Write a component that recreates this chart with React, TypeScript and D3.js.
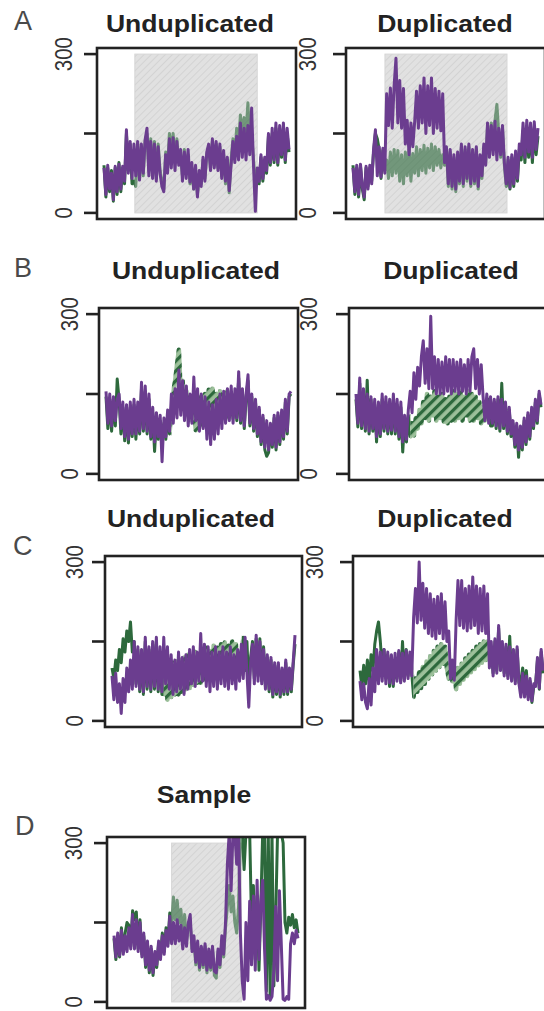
import React from 'react';
import * as d3 from 'd3';

// read-depth traces, 100 windows per panel (values on a 0-300 axis)
const aUndupPurple = [85, 35, 90, 45, 75, 25, 88, 40, 92, 45, 88, 60, 157, 75, 135, 65, 130, 70, 135, 62, 130, 75, 138, 160, 70, 135, 65, 130, 60, 125, 75, 50, 40, 110, 75, 140, 85, 142, 80, 135, 90, 120, 60, 115, 65, 120, 58, 95, 45, 90, 30, 80, 50, 105, 60, 115, 130, 80, 140, 85, 135, 80, 130, 65, 118, 60, 105, 42, 90, 135, 95, 145, 100, 170, 105, 160, 100, 165, 110, 198, 90, 3, 85, 60, 110, 65, 105, 80, 150, 95, 160, 100, 170, 95, 165, 110, 170, 100, 160, 120];
const aUndupGreen = [90, 30, 85, 40, 80, 22, 85, 35, 95, 40, 85, 55, 150, 80, 130, 55, 60, 50, 130, 65, 125, 70, 135, 150, 80, 140, 70, 135, 65, 130, 80, 60, 45, 115, 85, 150, 120, 150, 100, 140, 95, 110, 70, 120, 80, 110, 55, 80, 45, 75, 35, 70, 55, 100, 65, 110, 125, 85, 135, 90, 130, 85, 125, 70, 110, 55, 100, 38, 100, 140, 110, 160, 130, 185, 150, 180, 150, 208, 140, 150, 100, 60, 80, 55, 105, 60, 100, 75, 145, 90, 150, 95, 160, 90, 155, 105, 160, 95, 150, 115];

const aDupPurple = [85, 40, 90, 35, 92, 50, 30, 88, 45, 90, 55, 120, 157, 70, 125, 68, 122, 75, 225, 165, 236, 160, 240, 292, 170, 250, 160, 235, 130, 175, 110, 170, 125, 172, 230, 160, 240, 170, 255, 150, 240, 165, 255, 150, 235, 160, 230, 155, 225, 95, 125, 55, 120, 50, 110, 45, 115, 60, 130, 55, 125, 65, 130, 55, 120, 60, 125, 50, 110, 70, 130, 90, 170, 105, 165, 110, 173, 100, 160, 110, 165, 95, 55, 105, 48, 110, 55, 117, 65, 130, 110, 170, 105, 175, 115, 170, 105, 172, 120, 160];
const aDupGreen = [90, 35, 85, 30, 88, 45, 25, 85, 50, 85, 60, 115, 150, 140, 120, 65, 118, 80, 100, 65, 115, 70, 120, 75, 118, 60, 110, 55, 115, 70, 120, 60, 112, 75, 125, 70, 120, 80, 128, 75, 122, 85, 130, 80, 125, 90, 120, 85, 110, 90, 120, 50, 115, 45, 105, 40, 110, 55, 125, 50, 120, 60, 125, 50, 115, 55, 120, 45, 105, 65, 125, 95, 165, 110, 170, 120, 175, 205, 150, 105, 160, 90, 50, 100, 45, 105, 50, 110, 60, 120, 100, 155, 95, 160, 105, 150, 95, 160, 110, 145];

const bUndupPurple = [155, 95, 150, 90, 145, 100, 140, 150, 85, 135, 70, 130, 65, 135, 75, 140, 75, 135, 80, 172, 85, 165, 80, 150, 70, 125, 60, 115, 70, 110, 23, 105, 70, 120, 80, 150, 95, 160, 105, 195, 110, 175, 100, 165, 90, 150, 95, 182, 100, 160, 80, 150, 85, 145, 65, 135, 55, 130, 65, 140, 75, 150, 85, 155, 95, 160, 100, 165, 95, 160, 105, 192, 100, 160, 90, 150, 186, 95, 150, 85, 140, 75, 125, 60, 110, 50, 100, 45, 95, 55, 110, 50, 115, 60, 120, 70, 140, 80, 150, 155];
const bUndupGreen = [145, 85, 140, 80, 135, 90, 178, 140, 75, 125, 62, 120, 58, 125, 70, 130, 65, 125, 75, 160, 80, 155, 75, 140, 65, 115, 42, 105, 65, 100, 70, 95, 65, 110, 75, 125, 155, 175, 205, 233, 150, 175, 125, 155, 110, 145, 100, 135, 82, 130, 95, 145, 90, 150, 100, 158, 105, 160, 100, 150, 105, 155, 110, 148, 105, 155, 110, 145, 105, 150, 100, 180, 95, 155, 85, 145, 175, 90, 145, 80, 135, 70, 120, 55, 105, 45, 33, 40, 90, 50, 105, 45, 110, 55, 115, 65, 135, 75, 145, 150];

const bDupPurple = [150, 95, 180, 90, 160, 85, 150, 80, 145, 85, 140, 70, 135, 75, 150, 85, 145, 80, 140, 82, 150, 80, 140, 70, 135, 60, 110, 65, 120, 155, 115, 190, 140, 200, 165, 220, 250, 170, 235, 160, 296, 160, 220, 150, 215, 150, 210, 150, 220, 155, 215, 150, 215, 155, 210, 150, 215, 155, 205, 150, 215, 155, 220, 235, 160, 215, 150, 205, 145, 100, 150, 95, 145, 95, 140, 90, 145, 85, 140, 90, 135, 80, 125, 75, 100, 55, 95, 45, 90, 50, 105, 60, 115, 70, 125, 90, 140, 100, 155, 130];
const bDupGreen = [140, 88, 170, 85, 150, 80, 176, 75, 140, 80, 130, 60, 125, 70, 140, 80, 135, 75, 130, 75, 140, 75, 130, 65, 125, 41, 100, 60, 110, 70, 95, 72, 105, 85, 120, 95, 135, 105, 150, 100, 145, 110, 155, 100, 145, 105, 150, 98, 140, 95, 145, 100, 155, 100, 150, 105, 155, 100, 145, 110, 155, 100, 150, 100, 145, 105, 135, 95, 125, 100, 110, 140, 90, 90, 135, 85, 140, 80, 170, 85, 130, 75, 120, 70, 95, 50, 90, 31, 85, 45, 100, 55, 110, 65, 120, 85, 135, 95, 150, 125];

const cUndupPurple = [85, 40, 90, 35, 70, 14, 80, 35, 100, 55, 115, 60, 150, 65, 140, 60, 135, 55, 158, 65, 140, 60, 150, 65, 158, 60, 140, 55, 158, 70, 140, 60, 125, 50, 115, 55, 130, 60, 120, 50, 125, 60, 135, 70, 140, 65, 130, 75, 165, 75, 145, 65, 140, 55, 130, 65, 140, 60, 130, 70, 140, 65, 130, 60, 140, 70, 125, 60, 135, 75, 145, 80, 158, 90, 26, 110, 145, 70, 162, 75, 150, 70, 135, 60, 125, 60, 120, 50, 110, 55, 110, 50, 100, 55, 115, 55, 100, 60, 110, 162];
const cUndupGreen = [100, 80, 115, 95, 135, 110, 155, 130, 170, 150, 187, 130, 150, 70, 135, 55, 125, 50, 150, 60, 135, 55, 145, 60, 150, 55, 130, 50, 50, 105, 40, 100, 45, 110, 50, 112, 50, 115, 55, 120, 60, 125, 62, 120, 68, 130, 72, 125, 72, 132, 78, 138, 80, 132, 85, 142, 90, 138, 95, 145, 98, 148, 95, 142, 102, 150, 98, 145, 90, 130, 88, 158, 95, 150, 60, 120, 150, 80, 155, 85, 155, 75, 140, 65, 120, 55, 115, 45, 105, 50, 105, 45, 95, 50, 110, 50, 95, 55, 105, 145];

const cDupPurple = [75, 40, 70, 35, 23, 80, 30, 100, 55, 135, 70, 130, 75, 135, 70, 130, 72, 125, 70, 128, 75, 133, 72, 128, 75, 133, 80, 130, 85, 195, 250, 185, 300, 190, 260, 175, 250, 165, 240, 160, 230, 155, 235, 165, 240, 155, 225, 150, 170, 80, 115, 77, 190, 265, 180, 265, 175, 250, 170, 255, 175, 272, 180, 255, 165, 250, 170, 255, 165, 240, 100, 150, 85, 155, 90, 180, 95, 150, 85, 145, 80, 140, 75, 135, 70, 140, 70, 45, 90, 45, 85, 40, 80, 38, 70, 65, 120, 62, 135, 95];
const cDupGreen = [95, 65, 105, 70, 115, 70, 125, 95, 145, 170, 187, 150, 100, 135, 80, 125, 65, 120, 65, 115, 80, 130, 75, 150, 80, 135, 85, 125, 90, 45, 80, 55, 92, 62, 102, 70, 112, 80, 122, 88, 132, 95, 140, 102, 145, 108, 140, 100, 80, 105, 75, 95, 60, 100, 70, 108, 78, 118, 85, 125, 92, 132, 98, 140, 105, 145, 110, 150, 115, 150, 120, 140, 90, 150, 95, 175, 100, 145, 90, 140, 85, 160, 80, 130, 75, 135, 72, 75, 100, 70, 95, 45, 75, 35, 65, 70, 115, 60, 130, 90];

const samplePurple = [125, 85, 130, 88, 135, 90, 125, 95, 140, 100, 165, 100, 155, 95, 150, 85, 130, 70, 115, 60, 105, 55, 95, 70, 115, 80, 125, 90, 135, 105, 162, 110, 150, 110, 155, 115, 145, 100, 140, 105, 150, 165, 95, 125, 75, 115, 65, 105, 70, 110, 60, 100, 65, 105, 58, 55, 100, 70, 125, 90, 150, 260, 320, 210, 320, 320, 260, 320, 130, 40, 5, 150, 40, 190, 70, 200, 60, 230, 80, 190, 230, 100, 5, 12, 3, 10, 60, 180, 40, 210, 110, 5, 3, 10, 5, 110, 130, 110, 135, 120];
const sampleGreen = [120, 80, 125, 85, 140, 95, 130, 150, 145, 105, 172, 155, 170, 100, 155, 90, 125, 65, 110, 55, 100, 50, 90, 65, 110, 85, 130, 95, 140, 110, 168, 140, 198, 155, 192, 150, 175, 125, 165, 115, 145, 150, 100, 115, 70, 105, 60, 100, 65, 105, 55, 95, 60, 100, 50, 45, 95, 65, 115, 85, 140, 180, 220, 170, 200, 150, 130, 180, 320, 320, 250, 320, 320, 320, 150, 220, 80, 200, 60, 180, 320, 320, 20, 320, 10, 320, 30, 160, 320, 320, 320, 300, 150, 130, 160, 145, 165, 140, 155, 130];

const yTicks = [0, 150, 300];
const yLabels = ['0', '', '300'];

// index ranges: grey shaded window (A, D) and duplicated stretch (B, C)
const shadeAL = [16.5, 82];
const shadeAR = [17.1, 82.4];
const shadeD = [31, 68.5];
const dupBL = [35, 68];
const dupBR = [29, 70];
const dupCL = [28, 70];
const dupCR = [29, 70];

const PURPLE = '#6b3d8f';
const GREEN = '#2d693c';
const FONT = '"Liberation Sans", Arial, Helvetica, sans-serif';

type P = {
  id: string; x: number; y: number; w: number; h: number;
  title: string; tx: number; ty: number; lab: number;
  purple: number[]; green: number[]; shade?: number[]; dup?: number[];
};

const panels: P[] = [
  { id: 'al', x: 97, y: 48, w: 199, h: 171, title: 'Unduplicated', tx: 190, ty: 32, lab: 72, purple: aUndupPurple, green: aUndupGreen, shade: shadeAL },
  { id: 'ar', x: 346, y: 48, w: 199, h: 171, title: 'Duplicated', tx: 445, ty: 32, lab: 316, purple: aDupPurple, green: aDupGreen, shade: shadeAR },
  { id: 'bl', x: 99, y: 308, w: 199, h: 172, title: 'Unduplicated', tx: 196, ty: 279, lab: 78, purple: bUndupPurple, green: bUndupGreen, dup: dupBL },
  { id: 'br', x: 349, y: 308, w: 199, h: 172, title: 'Duplicated', tx: 451, ty: 279, lab: 317, purple: bDupPurple, green: bDupGreen, dup: dupBR },
  { id: 'cl', x: 105, y: 556, w: 197, h: 171, title: 'Unduplicated', tx: 191, ty: 527, lab: 83, purple: cUndupPurple, green: cUndupGreen, dup: dupCL },
  { id: 'cr', x: 353, y: 556, w: 197, h: 171, title: 'Duplicated', tx: 445, ty: 527, lab: 323, purple: cDupPurple, green: cDupGreen, dup: dupCR },
  { id: 'd', x: 107, y: 837, w: 198, h: 171, title: 'Sample', tx: 204, ty: 803, lab: 82, purple: samplePurple, green: sampleGreen, shade: shadeD },
];

const letters = [
  { t: 'A', x: 14, y: 30 },
  { t: 'B', x: 14, y: 277 },
  { t: 'C', x: 13, y: 555 },
  { t: 'D', x: 15, y: 835 },
];

function Panel({ p }: { p: P }) {
  const xs = d3.scaleLinear().domain([0, p.purple.length - 1]).range([p.x + 7, p.x + p.w - 7]);
  const ys = d3.scaleLinear().domain([-11.5, 311.5]).range([p.y + p.h, p.y]);
  const line = d3.line<number>().x((_, i) => xs(i)).y(d => ys(d));
  const range = p.shade || p.dup;
  const a = range ? xs(range[0]) : 0;
  const b = range ? xs(range[1]) : 0;
  const lw = 3;

  return (
    <g>
      <defs>
        <clipPath id={`box-${p.id}`}>
          <rect x={p.x} y={p.y} width={p.w} height={p.h} />
        </clipPath>
        {range && (
          <>
            <clipPath id={`in-${p.id}`}>
              <rect x={a} y={p.y} width={b - a} height={p.h} />
            </clipPath>
            <clipPath id={`out-${p.id}`}>
              <rect x={p.x} y={p.y} width={a - p.x} height={p.h} />
              <rect x={b} y={p.y} width={p.x + p.w - b} height={p.h} />
            </clipPath>
          </>
        )}
      </defs>
      <text
        transform={`translate(${p.tx},${p.ty}) scale(1.13,1)`}
        textAnchor="middle" fontFamily={FONT} fontWeight="bold" fontSize={23.5} fill="#222"
      >{p.title}</text>

      {p.shade && (
        <rect x={a} y={ys(300)} width={b - a} height={ys(0) - ys(300)}
          fill="url(#greyHatch)" stroke="#d6d6d6" strokeWidth={1} />
      )}

      <g clipPath={`url(#box-${p.id})`} fill="none" strokeLinejoin="round" strokeLinecap="butt">
        {range ? (
          <>
            <path d={line(p.green) || ''} stroke={GREEN} strokeWidth={lw} clipPath={`url(#out-${p.id})`} />
            {p.shade ? (
              <path d={line(p.green) || ''} stroke={GREEN} strokeWidth={lw} opacity={0.62} clipPath={`url(#in-${p.id})`} />
            ) : (
              <path d={line(p.green) || ''} stroke="url(#greenHatch)" strokeWidth={4.5} clipPath={`url(#in-${p.id})`} />
            )}
          </>
        ) : (
          <path d={line(p.green) || ''} stroke={GREEN} strokeWidth={lw} />
        )}
        <path d={line(p.purple) || ''} stroke={PURPLE} strokeWidth={lw} />
      </g>

      <rect x={p.x} y={p.y} width={p.w} height={p.h} fill="none" stroke="#222" strokeWidth={2.6} />
      {yTicks.map((t, i) => (
        <g key={t}>
          <line x1={p.x - 13} x2={p.x} y1={ys(t)} y2={ys(t)} stroke="#222" strokeWidth={2.6} />
          {yLabels[i] && (
            <text
              transform={`translate(${p.lab},${ys(t)}) scale(1.13,1) rotate(-90)`}
              textAnchor="middle" fontFamily={FONT} fontSize={20.5} fill="#333"
            >{yLabels[i]}</text>
          )}
        </g>
      ))}
    </g>
  );
}

export default function App() {
  return (
    <svg width={544} height={1011} style={{ position: 'absolute', left: 0, top: 0, background: '#fff' }}>
      <defs>
        <pattern id="greyHatch" patternUnits="userSpaceOnUse" width={5} height={5} patternTransform="rotate(45)">
          <rect width={5} height={5} fill="#e1e1e1" />
          <rect width={1} height={5} fill="#d3d3d3" />
        </pattern>
        <pattern id="greenHatch" patternUnits="userSpaceOnUse" width={7} height={7} patternTransform="rotate(45)">
          <rect width={7} height={7} fill="#9cc09a" />
          <rect width={3.2} height={7} fill={GREEN} />
        </pattern>
      </defs>
      <rect width={544} height={1011} fill="#fff" />
      {letters.map(l => (
        <text key={l.t} x={l.x} y={l.y} fontFamily={FONT} fontSize={27} fill="#4a4a4a">{l.t}</text>
      ))}
      {panels.map(p => <Panel key={p.id} p={p} />)}
    </svg>
  );
}
